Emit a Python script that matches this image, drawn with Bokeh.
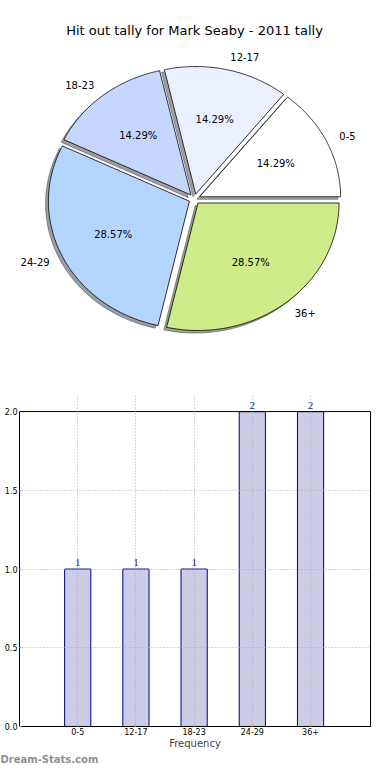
import numpy as np
from bokeh.plotting import figure
from bokeh.layouts import column
from bokeh.models import (Range1d, Label, LabelSet, FixedTicker, NumeralTickFormatter,
                          ColumnDataSource, LinearAxis, Span, Title)
from bokeh.embed import file_html
from bokeh.resources import INLINE
from bokeh.core.properties import value

# ---------------- data ----------------
categories = ["0-5", "12-17", "18-23", "24-29", "36+"]
counts = [1, 1, 1, 2, 2]
slice_colors = ["#ffffff", "#eaf0ff", "#c5d7ff", "#b4d5ff", "#d0eb8a"]
title_text = "Hit out tally for Mark Seaby - 2011 tally"
x_label = "Frequency"
watermark = "Dream-Stats.com"
y_ticks = [0.0, 0.5, 1.0, 1.5, 2.0]
y_max = 2.0

FONT = "DejaVu Sans"
EXPLODE = 0.04
SHADOW = (-0.02, -0.02)

# ---------------- pie ----------------
# frame kept identical horizontally to the bar chart frame (column aligns frames)
pie = figure(frame_width=351, frame_height=378, x_range=Range1d(-1.2411, 1.2482),
             y_range=Range1d(-1.4078, 1.5569), x_axis_type=None, y_axis_type=None,
             output_backend="svg", toolbar_location=None, title=None,
             min_border_left=19, min_border_right=4, min_border_top=0,
             min_border_bottom=0)
pie.grid.visible = False
pie.outline_line_color = None

total = float(sum(counts))
fracs = [c / total for c in counts]
ends = np.cumsum(fracs) * 2 * np.pi
starts = np.concatenate([[0.0], ends[:-1]])
mids = (starts + ends) / 2

xs, ys, sxs, sys_, shadow_cols = [], [], [], [], []
lab_x, lab_y, lab_align = [], [], []
pct_x, pct_y, pct_text = [], [], []
for a0, a1, m, col, f in zip(starts, ends, mids, slice_colors, fracs):
    cx, cy = EXPLODE * np.cos(m), EXPLODE * np.sin(m)
    t = np.linspace(a0, a1, 120)
    px = np.concatenate([[cx], cx + np.cos(t), [cx]])
    py = np.concatenate([[cy], cy + np.sin(t), [cy]])
    xs.append(px)
    ys.append(py)
    sxs.append(px + SHADOW[0])
    sys_.append(py + SHADOW[1])
    r, g, b = int(col[1:3], 16), int(col[3:5], 16), int(col[5:7], 16)
    shadow_cols.append("#%02x%02x%02x" % (int(r * 0.3), int(g * 0.3), int(b * 0.3)))
    lab_x.append(cx + 1.1 * np.cos(m))
    lab_y.append(cy + 1.1 * np.sin(m))
    lab_align.append("left" if np.cos(m) > 0 else "right")
    pct_x.append(cx + 0.6 * np.cos(m))
    pct_y.append(cy + 0.6 * np.sin(m))
    pct_text.append("%.2f%%" % (100 * f))

pie.patches(xs=sxs, ys=sys_, fill_color=shadow_cols, fill_alpha=0.5,
            line_color=shadow_cols, line_alpha=0.5, line_width=1)
pie.patches(xs=xs, ys=ys, fill_color=slice_colors, line_color="black", line_width=0.8)

pie.text(x=lab_x, y=lab_y, text=categories, text_align=lab_align,
         text_baseline="middle", text_font=value(FONT), text_font_size="10px",
         text_color="black")
pie.text(x=pct_x, y=pct_y, text=pct_text, text_align="center",
         text_baseline="middle", text_font=value(FONT), text_font_size="10px",
         text_color="black")

pie.add_layout(Label(x=0, y=1.3216, text=title_text, text_align="center",
                     text_baseline="middle", text_font=FONT, text_font_size="13px",
                     text_color="black"))

# ---------------- bars ----------------
idx = list(range(len(categories)))
bar = figure(width=374, height=386, x_range=Range1d(-1, 5.03),
             y_range=Range1d(0, 2.115), output_backend="svg", toolbar_location=None,
             title=None, min_border_left=19, min_border_right=4, min_border_top=15,
             min_border_bottom=0)
bar.outline_line_color = None

src = ColumnDataSource(dict(x=idx, top=counts, lab=[str(c) for c in counts]))
bar.vbar(x="x", top="top", width=0.45, source=src, fill_color="#cccce6",
         line_color="#000080", line_width=1)

bar.xaxis.ticker = FixedTicker(ticks=idx)
bar.xaxis.major_label_overrides = {i: c for i, c in zip(idx, categories)}
bar.yaxis.ticker = FixedTicker(ticks=y_ticks)
bar.yaxis.formatter = NumeralTickFormatter(format="0.0")
bar.yaxis.bounds = (0, y_max)
for ax in (bar.xaxis, bar.yaxis):
    ax.axis_line_color = "black"
    ax.axis_line_width = 1
    ax.major_tick_in = 2
    ax.major_tick_out = 0
    ax.minor_tick_line_color = None
    ax.major_tick_line_color = "#999999"
    ax.major_label_text_font = FONT
    ax.major_label_text_font_size = "8px"
    ax.major_label_text_color = "black"
    ax.major_label_standoff = 2
bar.xaxis.major_label_standoff = 1
bar.xaxis.axis_label = x_label
bar.xaxis.axis_label_text_font = FONT
bar.xaxis.axis_label_text_font_size = "10px"
bar.xaxis.axis_label_text_font_style = "normal"
bar.xaxis.axis_label_standoff = 0

right = LinearAxis(bounds=(0, y_max), ticker=FixedTicker(ticks=[]),
                   axis_line_color="black", axis_line_width=1,
                   major_tick_line_color=None, minor_tick_line_color=None,
                   major_label_text_font_size="0px")
bar.add_layout(right, "right")
bar.add_layout(Span(location=y_max, dimension="width", line_color="black",
                    line_width=1))

bar.xgrid.bounds = (0, y_max)
bar.ygrid.ticker = FixedTicker(ticks=[t for t in y_ticks if 0 < t < y_max])
bar.grid.grid_line_color = "#b0b0b0"
bar.grid.grid_line_dash = "1 2"
bar.grid.grid_line_width = 1
bar.grid.level = "overlay"

bar.add_layout(LabelSet(x="x", y="top", text="lab", source=src, y_offset=3,
                        text_align="center", text_baseline="bottom",
                        text_font=FONT, text_font_size="11px", text_color="#1c1c90",
                        level="overlay"))

bar.add_layout(Title(text=watermark, align="left", offset=-19, standoff=0,
                     text_font=FONT, text_font_size="10px", text_font_style="bold",
                     text_color="#8f8f8f"), "below")

layout = column(pie, bar, spacing=0)
open("out.html", "w").write(file_html(layout, INLINE))
